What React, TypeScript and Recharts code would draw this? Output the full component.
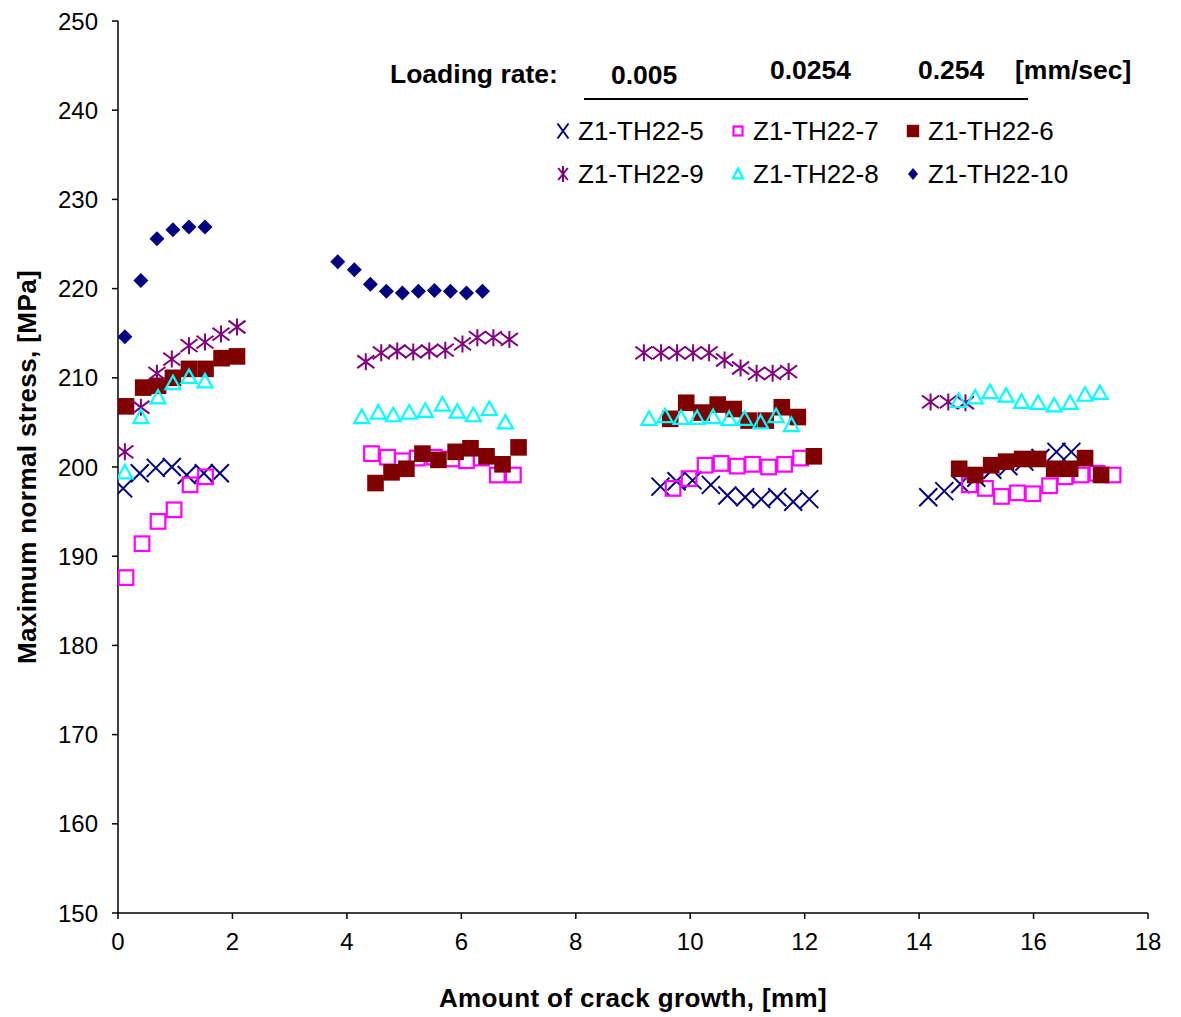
import { ScatterChart, Scatter, XAxis, YAxis } from 'recharts';

const FONT = '"Liberation Sans", Arial, sans-serif';

// crack growth [mm] / maximum normal stress [MPa], one pair of arrays per specimen
const th5X = [0.09, 0.38, 0.66, 0.94, 1.2, 1.5, 1.78, 9.48, 9.76, 10.04, 10.36, 10.65, 10.96, 11.24, 11.52, 11.8, 12.08, 14.16, 14.44, 14.72, 15.0, 15.28, 15.56, 15.84, 16.12, 16.4, 16.66];
const th5Y = [197.6, 199.3, 199.9, 200.0, 199.1, 199.3, 199.3, 197.8, 198.4, 198.5, 198.0, 196.8, 196.6, 196.4, 196.6, 196.1, 196.4, 196.6, 197.3, 198.1, 198.8, 199.7, 200.1, 200.6, 201.0, 201.7, 201.7];

const th7X = [0.14, 0.42, 0.7, 0.98, 1.26, 1.53, 4.43, 4.71, 4.97, 5.23, 5.53, 5.83, 6.09, 6.35, 6.63, 6.91, 9.7, 9.98, 10.26, 10.54, 10.82, 11.09, 11.37, 11.65, 11.93, 14.88, 15.16, 15.44, 15.72, 15.99, 16.28, 16.55, 16.83, 17.11, 17.39];
const th7Y = [187.6, 191.4, 193.9, 195.2, 198.0, 198.9, 201.5, 201.1, 200.7, 201.0, 201.1, 200.9, 200.7, 201.0, 199.1, 199.1, 197.6, 198.7, 200.2, 200.4, 200.1, 200.3, 200.0, 200.3, 201.0, 198.0, 197.6, 196.7, 197.1, 197.0, 197.9, 198.9, 199.1, 199.3, 199.1];

const th6X = [0.14, 0.44, 0.7, 0.96, 1.24, 1.53, 1.81, 2.08, 4.5, 4.78, 5.04, 5.32, 5.6, 5.9, 6.16, 6.44, 6.72, 7.0, 9.65, 9.93, 10.2, 10.48, 10.76, 11.02, 11.32, 11.6, 11.88, 12.16, 14.7, 14.98, 15.26, 15.52, 15.8, 16.08, 16.36, 16.64, 16.9, 17.18];
const th6Y = [206.8, 208.9, 209.1, 210.0, 211.0, 211.0, 212.2, 212.4, 198.2, 199.4, 199.8, 201.5, 200.8, 201.7, 202.1, 201.2, 200.3, 202.2, 205.4, 207.2, 206.1, 207.0, 206.5, 205.2, 205.2, 206.7, 205.6, 201.2, 199.8, 199.1, 200.2, 200.6, 200.9, 200.9, 199.8, 199.8, 201.0, 199.1];

const th9X = [0.12, 0.4, 0.68, 0.94, 1.24, 1.52, 1.8, 2.08, 4.33, 4.6, 4.88, 5.16, 5.44, 5.72, 6.02, 6.28, 6.56, 6.84, 9.19, 9.49, 9.77, 10.05, 10.33, 10.6, 10.88, 11.16, 11.44, 11.72, 14.2, 14.51, 14.81];
const th9Y = [201.7, 206.7, 210.5, 212.1, 213.6, 214.0, 214.9, 215.7, 211.8, 212.8, 213.0, 212.9, 213.0, 213.1, 213.8, 214.5, 214.5, 214.3, 212.8, 212.8, 212.8, 212.8, 212.8, 212.0, 211.1, 210.5, 210.5, 210.7, 207.3, 207.3, 207.2];

const th8X = [0.12, 0.4, 0.7, 0.96, 1.24, 1.52, 4.26, 4.55, 4.81, 5.09, 5.37, 5.67, 5.93, 6.21, 6.49, 6.77, 9.28, 9.56, 9.84, 10.12, 10.4, 10.68, 10.95, 11.23, 11.5, 11.77, 14.69, 14.98, 15.24, 15.52, 15.79, 16.08, 16.36, 16.64, 16.9, 17.16];
const th8Y = [199.4, 205.6, 207.8, 209.4, 210.1, 209.6, 205.6, 206.1, 205.8, 206.1, 206.3, 207.0, 206.2, 205.8, 206.5, 205.0, 205.4, 205.7, 205.5, 205.5, 205.6, 205.4, 205.4, 205.0, 205.7, 204.7, 207.4, 207.8, 208.4, 208.0, 207.3, 207.2, 206.9, 207.2, 208.1, 208.3];

const th10X = [0.12, 0.4, 0.68, 0.96, 1.24, 1.52, 3.84, 4.13, 4.41, 4.69, 4.97, 5.25, 5.53, 5.81, 6.09, 6.37];
const th10Y = [214.6, 220.9, 225.6, 226.6, 226.9, 226.9, 223.0, 222.1, 220.5, 219.7, 219.5, 219.7, 219.8, 219.7, 219.5, 219.7];

const xTicks = [0, 2, 4, 6, 8, 10, 12, 14, 16, 18];
const yTicks = [150, 160, 170, 180, 190, 200, 210, 220, 230, 240, 250];
const rates = ['0.005', '0.0254', '0.254'];

const zip = (xs: number[], ys: number[]) => xs.map((x, i) => ({ x, y: ys[i] }));

type Kind = 'x' | 'openSquare' | 'square' | 'star' | 'triangle' | 'diamond';

const series: { name: string; kind: Kind; color: string; data: { x: number; y: number }[] }[] = [
  { name: 'Z1-TH22-5', kind: 'x', color: '#000080', data: zip(th5X, th5Y) },
  { name: 'Z1-TH22-7', kind: 'openSquare', color: '#ff00ff', data: zip(th7X, th7Y) },
  { name: 'Z1-TH22-6', kind: 'square', color: '#800000', data: zip(th6X, th6Y) },
  { name: 'Z1-TH22-9', kind: 'star', color: '#800080', data: zip(th9X, th9Y) },
  { name: 'Z1-TH22-8', kind: 'triangle', color: '#00ffff', data: zip(th8X, th8Y) },
  { name: 'Z1-TH22-10', kind: 'diamond', color: '#000080', data: zip(th10X, th10Y) },
];

// marker half-sizes [w, h], plot vs legend
const plotSize: Record<Kind, [number, number]> = {
  x: [9, 9], openSquare: [8.3, 8.3], square: [8.3, 8.3], star: [8.5, 8.5], triangle: [7.5, 7.5], diamond: [7.5, 7.5],
};
const legendSize: Record<Kind, [number, number]> = {
  x: [5.5, 7.5], openSquare: [5.5, 5.5], square: [6.2, 6.2], star: [4.8, 8], triangle: [5, 5.5], diamond: [5, 6],
};

function marker(kind: Kind, cx: number, cy: number, color: string, [w, h]: [number, number]) {
  switch (kind) {
    case 'x':
      return <path d={`M${cx - w},${cy - h}L${cx + w},${cy + h}M${cx + w},${cy - h}L${cx - w},${cy + h}`} stroke={color} strokeWidth={2} fill="none" />;
    case 'star':
      return <path d={`M${cx - w},${cy - h * 0.75}L${cx + w},${cy + h * 0.75}M${cx + w},${cy - h * 0.75}L${cx - w},${cy + h * 0.75}M${cx},${cy - h}L${cx},${cy + h}`} stroke={color} strokeWidth={2} fill="none" />;
    case 'openSquare':
      return <rect x={cx - w + 1} y={cy - h + 1} width={2 * w - 2} height={2 * h - 2} stroke={color} strokeWidth={2.2} fill="none" />;
    case 'square':
      return <rect x={cx - w} y={cy - h} width={2 * w} height={2 * h} fill={color} />;
    case 'triangle':
      return <polygon points={`${cx},${cy - h} ${cx + w},${cy + h * 0.8} ${cx - w},${cy + h * 0.8}`} stroke={color} strokeWidth={2.2} fill="none" />;
    case 'diamond':
      return <polygon points={`${cx},${cy - h} ${cx + w},${cy} ${cx},${cy + h} ${cx - w},${cy}`} fill={color} />;
  }
}

const tickStyle = { fontFamily: FONT, fontSize: 24, fill: '#000' };
const titleStyle = { fontFamily: FONT, fontSize: 26, fontWeight: 'bold' as const, fill: '#000', letterSpacing: 0.4 };

function Header() {
  const legendX = [563, 738, 913];
  const legendY = [131, 174];
  return (
    <svg width={1181} height={1017} style={{ position: 'absolute', left: 0, top: 0, pointerEvents: 'none' }}>
      <g fontFamily={FONT} fontWeight="bold" fontSize={26.5} fill="#000">
        <text x={390} y={83}>Loading rate:</text>
        <text x={611} y={84}>{rates[0]}</text>
        <text x={770} y={79}>{rates[1]}</text>
        <text x={918} y={79}>{rates[2]}</text>
        <text x={1015} y={79}>[mm/sec]</text>
      </g>
      <line x1={584} x2={1028} y1={99} y2={99} stroke="#000" strokeWidth={2} />
      {series.map((s, i) => {
        const cx = legendX[i % 3];
        const cy = legendY[Math.floor(i / 3)];
        return (
          <g key={s.name}>
            {marker(s.kind, cx, cy, s.color, legendSize[s.kind])}
            <text x={cx + 15} y={cy + 9} fontFamily={FONT} fontSize={26} fill="#000">{s.name}</text>
          </g>
        );
      })}
    </svg>
  );
}

export default function App() {
  return (
    <div style={{ position: 'absolute', left: 0, top: 0, width: 1181, height: 1017, background: '#fff' }}>
      <ScatterChart width={1181} height={1017} margin={{ top: 21, right: 33, bottom: 0, left: 0 }}>
        <XAxis
          type="number"
          dataKey="x"
          domain={[0, 18]}
          ticks={xTicks}
          allowDataOverflow
          height={104}
          tick={tickStyle}
          tickSize={6}
          tickMargin={14}
          axisLine={{ stroke: '#000', strokeWidth: 1.5 }}
          tickLine={{ stroke: '#000', strokeWidth: 1.5 }}
          label={{
            content: ({ viewBox }: any) => (
              <text x={viewBox.x + viewBox.width / 2} y={1007} textAnchor="middle" style={titleStyle}>
                Amount of crack growth, [mm]
              </text>
            ),
          }}
        />
        <YAxis
          type="number"
          dataKey="y"
          domain={[150, 250]}
          ticks={yTicks}
          allowDataOverflow
          width={118}
          tick={tickStyle}
          tickSize={6}
          tickMargin={14}
          axisLine={{ stroke: '#000', strokeWidth: 1.5 }}
          tickLine={{ stroke: '#000', strokeWidth: 1.5 }}
          label={{
            content: ({ viewBox }: any) => {
              const cy = viewBox.y + viewBox.height / 2;
              return (
                <text x={36} y={cy} textAnchor="middle" transform={`rotate(-90, 36, ${cy})`} style={titleStyle}>
                  Maximum normal stress, [MPa]
                </text>
              );
            },
          }}
        />
        {series.map((s) => (
          <Scatter
            key={s.name}
            name={s.name}
            data={s.data}
            isAnimationActive={false}
            shape={(p: any) => marker(s.kind, p.cx, p.cy, s.color, plotSize[s.kind])}
          />
        ))}
      </ScatterChart>
      <Header />
    </div>
  );
}
